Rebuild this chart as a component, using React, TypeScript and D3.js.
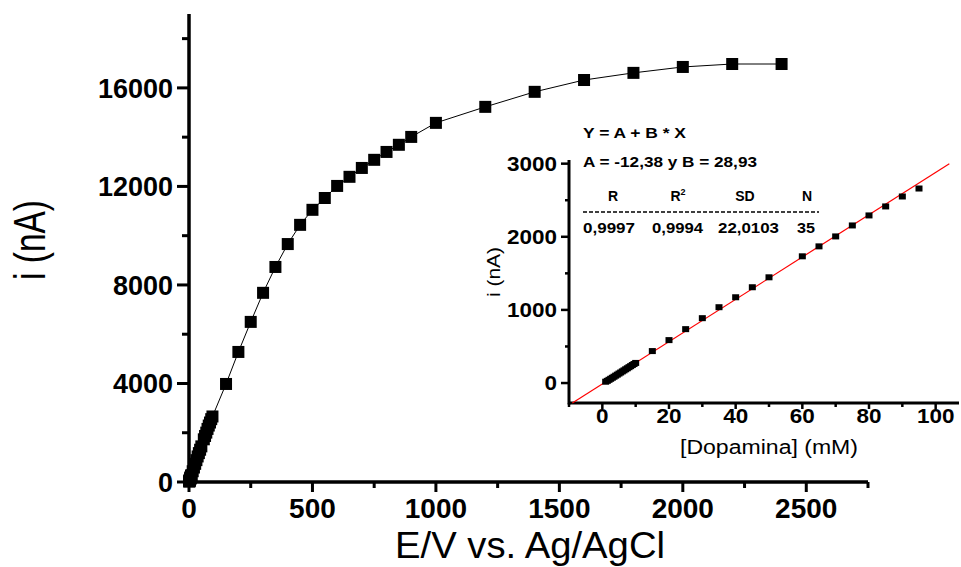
import React from 'react';
import * as d3 from 'd3';

// Calibration (inset) data: [Dopamina] (mM) vs i (nA)
const calX = [1, 1.5, 2, 2.5, 3, 3.5, 4, 4.5, 5, 5.5, 6, 6.5, 7, 7.5, 8, 8.5, 9, 9.5, 10,
  15, 20, 25, 30, 35, 40, 45, 50, 60, 65, 70, 75, 80, 85, 90, 95];
const calY = [18, 30, 44, 58, 72, 86, 101, 115, 130, 144, 159, 173, 188, 202, 217, 231, 246, 260, 275,
  437, 587, 737, 887, 1037, 1173, 1310, 1446, 1733, 1869, 2005, 2155, 2292, 2415, 2551, 2660];

// Saturation part of main curve
const satX = [150, 200, 250, 300, 350, 400, 450, 500, 550, 600, 650, 700, 750, 800, 850, 900,
  1000, 1200, 1400, 1600, 1800, 2000, 2200, 2400];
const satY = [3980, 5280, 6500, 7680, 8730, 9660, 10440, 11050, 11530, 12020, 12390, 12750, 13080,
  13400, 13690, 14010, 14580, 15230, 15840, 16320, 16610, 16850, 16970, 16970];

// Linear fit
const fitA = -12.38;
const fitB = 28.93;
const fitXRange = [-9, 104.1];

const mainXTicks = [0, 500, 1000, 1500, 2000, 2500];
const mainXMinor = [250, 750, 1250, 1750, 2250, 2750];
const mainYTicks = [0, 4000, 8000, 12000, 16000];
const mainYMinor = [2000, 6000, 10000, 14000, 18000];
const insetXTicks = [0, 20, 40, 60, 80, 100];
const insetXMinor = [-10, 10, 30, 50, 70, 90];
const insetYTicks = [0, 1000, 2000, 3000];
const insetYMinor = [500, 1500, 2500];

const eqLine1 = 'Y = A + B * X';
const eqLine2 = 'A = -12,38 y B = 28,93';
const statHeaders = ['R', 'R', 'SD', 'N'];
const statValues = ['0,9997', '0,9994', '22,0103', '35'];

const FONT = "'Liberation Sans', Arial, Helvetica, sans-serif";

export default function App() {
  const mainX = calX.concat(satX);
  const mainY = calY.concat(satY);

  const x = d3.scaleLinear().domain([0, 2750]).range([189, 868]);
  const y = d3.scaleLinear().domain([0, 19000]).range([482, 14]);

  const ix = d3.scaleLinear().domain([-10, 107]).range([569, 959]);
  const iy = d3.scaleLinear().domain([-273, 3050]).range([403, 160]);

  const line = d3.line<number>().x((_, i) => x(mainX[i])).y((_, i) => y(mainY[i]));
  const linePath = line(mainX) || '';

  const fitLine = d3.line<number>().x((d) => ix(d)).y((d) => iy(fitA + fitB * d));
  const fitPath = fitLine(fitXRange) || '';

  const ms = 12;
  const ims = 7;

  const headerCx = [613, 678, 745, 807];
  const valueLx = [583, 652, 718, 797];
  const valueLen = [52, 51, 61, 18];

  return (
    <svg width={961} height={567} style={{ position: 'absolute', left: 0, top: 0, background: '#fff' }}
      fontFamily={FONT}>
      <rect x={0} y={0} width={961} height={567} fill="#fff" />
      {/* Main axes */}
      <line x1={x(0)} x2={x(2750)} y1={y(0)} y2={y(0)} stroke="#000" strokeWidth={3.5} />
      <line x1={x(0)} x2={x(0)} y1={y(19000)} y2={y(0) + 1.75} stroke="#000" strokeWidth={3.5} />
      {mainXTicks.map((t) => (
        <g key={'mxt' + t}>
          <line x1={x(t)} x2={x(t)} y1={y(0)} y2={y(0) + 10} stroke="#000" strokeWidth={3} />
          <text x={x(t)} y={518} textAnchor="middle" fontSize={28} fontWeight="bold">{t}</text>
        </g>
      ))}
      {mainXMinor.map((t) => (
        <line key={'mxm' + t} x1={x(t)} x2={x(t)} y1={y(0)} y2={y(0) + 6} stroke="#000" strokeWidth={3} />
      ))}
      {mainYTicks.map((t) => (
        <g key={'myt' + t}>
          <line x1={x(0) - 12} x2={x(0)} y1={y(t)} y2={y(t)} stroke="#000" strokeWidth={3} />
          <text x={173} y={y(t)} dy="0.36em" textAnchor="end" fontSize={27} fontWeight="bold">{t}</text>
        </g>
      ))}
      {mainYMinor.map((t) => (
        <line key={'mym' + t} x1={x(0) - 7} x2={x(0)} y1={y(t)} y2={y(t)} stroke="#000" strokeWidth={3} />
      ))}
      <text x={530} y={558} textAnchor="middle" fontSize={36} textLength={270}
        lengthAdjust="spacingAndGlyphs">E/V vs. Ag/AgCl</text>
      <text transform="translate(45,240) rotate(-90)" textAnchor="middle" fontSize={45} textLength={80}
        lengthAdjust="spacingAndGlyphs">i (nA)</text>

      {/* Main series */}
      <path d={linePath} fill="none" stroke="#000" strokeWidth={1} />
      {mainX.map((d, i) => (
        <rect key={'mp' + i} x={x(d) - ms / 2} y={y(mainY[i]) - ms / 2} width={ms} height={ms} fill="#000" />
      ))}

      {/* Inset axes */}
      <line x1={ix(-10)} x2={ix(107)} y1={iy(-273)} y2={iy(-273)} stroke="#000" strokeWidth={3} />
      <line x1={ix(-10)} x2={ix(-10)} y1={iy(3050)} y2={iy(-273) + 1.5} stroke="#000" strokeWidth={3} />
      {insetXTicks.map((t) => (
        <g key={'ixt' + t}>
          <line x1={ix(t)} x2={ix(t)} y1={iy(-273)} y2={iy(-273) + 6} stroke="#000" strokeWidth={2.5} />
          <text x={ix(t)} y={423} textAnchor="middle" fontSize={20} fontWeight="bold"
            textLength={String(t).length * 12.5} lengthAdjust="spacingAndGlyphs">{t}</text>
        </g>
      ))}
      {insetXMinor.map((t) => (
        <line key={'ixm' + t} x1={ix(t)} x2={ix(t)} y1={iy(-273)} y2={iy(-273) + 4} stroke="#000" strokeWidth={2.5} />
      ))}
      {insetYTicks.map((t) => (
        <g key={'iyt' + t}>
          <line x1={ix(-10) - 8} x2={ix(-10)} y1={iy(t)} y2={iy(t)} stroke="#000" strokeWidth={2.5} />
          <text x={557} y={iy(t)} dy="0.36em" textAnchor="end" fontSize={20} fontWeight="bold"
            textLength={String(t).length * 12.5} lengthAdjust="spacingAndGlyphs">{t}</text>
        </g>
      ))}
      {insetYMinor.map((t) => (
        <line key={'iym' + t} x1={ix(-10) - 4} x2={ix(-10)} y1={iy(t)} y2={iy(t)} stroke="#000" strokeWidth={2.5} />
      ))}
      <text x={769} y={454} textAnchor="middle" fontSize={20} textLength={178}
        lengthAdjust="spacingAndGlyphs">[Dopamina] (mM)</text>
      <text transform="translate(500,272) rotate(-90)" textAnchor="middle" fontSize={19} textLength={50}
        lengthAdjust="spacingAndGlyphs">i (nA)</text>

      {/* Fit line and inset points */}
      <path d={fitPath} fill="none" stroke="#ff0000" strokeWidth={1.2} />
      {calX.map((d, i) => (
        <rect key={'ip' + i} x={ix(d) - ims / 2} y={iy(calY[i]) - ims / 2 + 0.5} width={ims} height={ims - 1} fill="#000" />
      ))}

      {/* Fit statistics */}
      <text x={583} y={138} fontSize={14} fontWeight="bold" textLength={103}
        lengthAdjust="spacingAndGlyphs">{eqLine1}</text>
      <text x={583} y={167} fontSize={14} fontWeight="bold" textLength={174}
        lengthAdjust="spacingAndGlyphs">{eqLine2}</text>
      {statHeaders.map((h, i) => (
        <text key={'sh' + i} x={headerCx[i]} y={201} textAnchor="middle" fontSize={14} fontWeight="bold">
          {h}
          {i === 1 ? <tspan fontSize={9} dy={-6}>2</tspan> : null}
        </text>
      ))}
      <line x1={583} x2={819} y1={212} y2={212} stroke="#000" strokeWidth={1.5} strokeDasharray="4,2" />
      {statValues.map((v, i) => (
        <text key={'sv' + i} x={valueLx[i]} y={233} fontSize={14} fontWeight="bold" textLength={valueLen[i]}
          lengthAdjust="spacingAndGlyphs">{v}</text>
      ))}
    </svg>
  );
}
